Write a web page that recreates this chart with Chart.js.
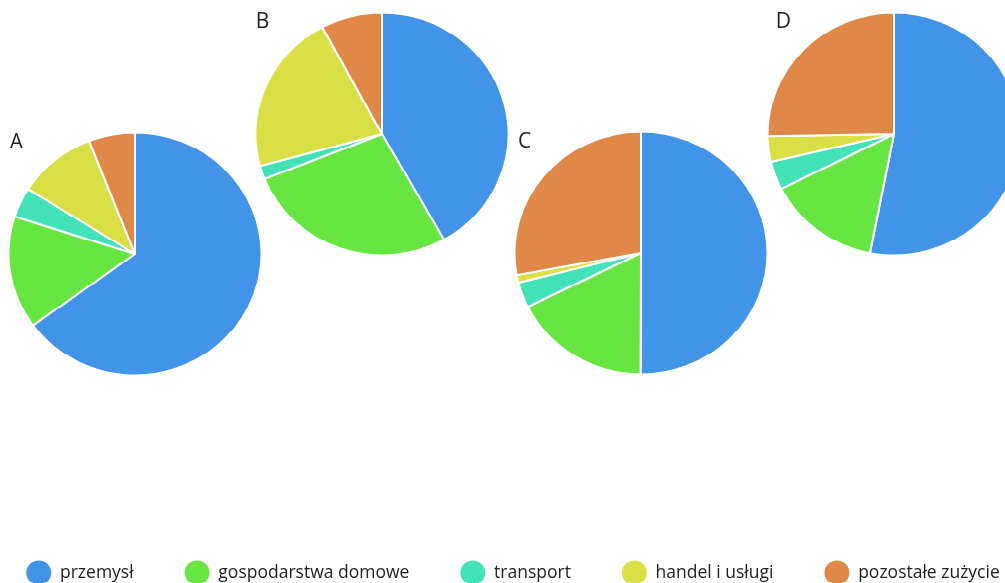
<!DOCTYPE html>
<html lang="pl">
<head>
<meta charset="utf-8">
<title>Struktura zużycia</title>
<script src="https://cdn.jsdelivr.net/npm/chart.js@4.4.1/dist/chart.umd.min.js"></script>
<style>
  html, body { margin: 0; padding: 0; background: #fff; overflow: hidden; width: 1005px; height: 583px; }
  #stage {
    position: relative; width: 1005px; height: 609px;
    transform: scaleY(0.958); transform-origin: 0 0; overflow: hidden;
  }
  #stage canvas { position: absolute; }
</style>
</head>
<body>
<div id="stage">
  <canvas id="pieA" width="260" height="260" style="left:5px;top:135px"></canvas>
  <canvas id="pieB" width="260" height="260" style="left:252px;top:10px"></canvas>
  <canvas id="pieC" width="260" height="260" style="left:511px;top:134px"></canvas>
  <canvas id="pieD" width="260" height="260" style="left:764px;top:10px"></canvas>
  <canvas id="legend" width="1120" height="160" style="left:-47px;top:537.5px"></canvas>
</div>
<script>
// Categories and the percentage share of each one in the four variants
const categories = ['przemysł', 'gospodarstwa domowe', 'transport', 'handel i usługi', 'pozostałe zużycie'];
const sharesA = [64.9, 15.0, 4.0, 10.1, 5.9];
const sharesB = [41.8, 27.1, 1.8, 21.4, 7.8];
const sharesC = [50.0, 17.6, 3.4, 1.0, 27.9];
const sharesD = [53.1, 14.5, 3.8, 3.4, 25.3];
const panelNames = ['A', 'B', 'C', 'D'];

const sliceColors = ['#4194e7', '#67e641', '#43e2b8', '#d9df44', '#df8847'];

// Draws the panel letter in the top-left corner of each pie canvas
const panelLetter = {
  id: 'panelLetter',
  afterDraw(chart, args, opts) {
    if (!opts || !opts.text) return;
    const ctx = chart.ctx;
    ctx.save();
    ctx.font = '21px "Open Sans"';
    ctx.fillStyle = '#222';
    ctx.textBaseline = 'alphabetic';
    ctx.textAlign = 'left';
    ctx.fillText(opts.text, opts.x, opts.y);
    ctx.restore();
  }
};

function makePie(id, values, name, lx, ly) {
  return new Chart(document.getElementById(id), {
    type: 'pie',
    data: {
      labels: categories,
      datasets: [{
        data: values,
        backgroundColor: sliceColors,
        borderColor: '#ffffff',
        borderWidth: 2
      }]
    },
    options: {
      responsive: false,
      animation: false,
      radius: 126.5,
      layout: { padding: 0 },
      plugins: {
        legend: { display: false },
        tooltip: { enabled: true },
        panelLetter: { text: name, x: lx, y: ly }
      }
    },
    plugins: [panelLetter]
  });
}

makePie('pieA', sharesA, panelNames[0], 4.7, 19.5);
makePie('pieB', sharesB, panelNames[1], 3.8, 18.6);
makePie('pieC', sharesC, panelNames[2], 7.0, 19.7);
makePie('pieD', sharesD, panelNames[3], 11.8, 19.3);

// Shared legend for all four pies
new Chart(document.getElementById('legend'), {
  type: 'pie',
  data: {
    labels: categories,
    datasets: [{ data: sharesA, backgroundColor: sliceColors, borderWidth: 0 }]
  },
  options: {
    responsive: false,
    animation: false,
    radius: 0,
    layout: { padding: 0 },
    plugins: {
      tooltip: { enabled: false },
      legend: {
        display: true,
        position: 'top',
        align: 'center',
        labels: {
          usePointStyle: true,
          pointStyle: 'circle',
          pointStyleWidth: 25,
          padding: 51,
          color: '#222',
          font: { family: '"Open Sans"', size: 17.5 }
        }
      }
    }
  }
});
</script>
</body>
</html>
